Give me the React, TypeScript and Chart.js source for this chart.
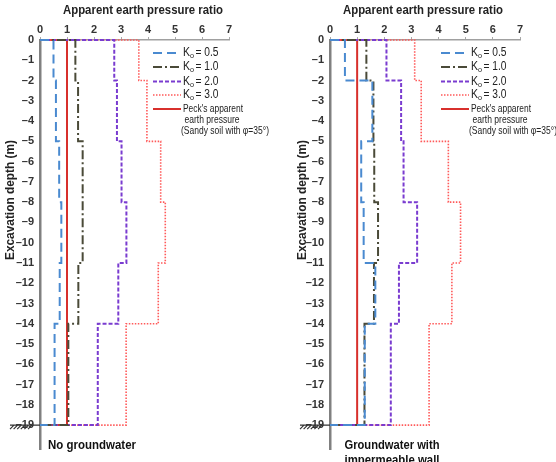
import React, { useEffect, useRef } from "react";
import { Chart, registerables } from "chart.js";
Chart.register(...registerables);

const FONT = '"Liberation Sans", Arial, Helvetica, sans-serif';

// depth breakpoints (m) – each series is constant between two breakpoints
const depthBreaks = [0, -2, -5, -8, -11, -14, -19];
const xTicks = [0, 1, 2, 3, 4, 5, 6, 7];
const yTicks = [0, -1, -2, -3, -4, -5, -6, -7, -8, -9, -10, -11, -12, -13, -14, -15, -16, -17, -18, -19];

// Panel 1: No groundwater
const leftK05 = [0.5, 0.59, 0.71, 0.79, 0.73, 0.54];
const leftK10 = [1.31, 1.41, 1.58, 1.58, 1.42, 1.05];
const leftK20 = [2.75, 2.85, 3.02, 3.2, 2.9, 2.14];
const leftK30 = [3.66, 3.96, 4.47, 4.64, 4.38, 3.19];
// Panel 2: Groundwater with impermeable wall
const rightK05 = [0.55, 1.56, 1.15, 1.24, 1.67, 1.28];
const rightK10 = [1.34, 1.6, 1.63, 1.77, 1.62, 1.27];
const rightK20 = [2.08, 2.62, 2.71, 3.21, 2.54, 2.24];
const rightK30 = [3.12, 3.36, 4.36, 4.81, 4.49, 3.65];
// Peck's apparent earth pressure (sandy soil, phi = 35°)
const peckRatio = [1, 1, 1, 1, 1, 1];

const kLabels = ["0.5", "1.0", "2.0", "3.0"];
const peckLabel = ["Peck's apparent", "earth pressure", "(Sandy soil with \u03c6=35\u00b0)"];
const titleText = "Apparent earth pressure ratio";
const yTitleText = "Excavation depth (m)";

type Style = { color: string; dash: number[]; width: number };
const kStyles: Style[] = [
  { color: "#4a8ad0", dash: [9, 5], width: 2 },
  { color: "#4a4a38", dash: [9, 3, 2, 3], width: 2 },
  { color: "#7a3cd0", dash: [4, 2], width: 2 },
  { color: "#ff5a5a", dash: [1.5, 1.5], width: 1.6 },
];
const peckStyle: Style = { color: "#d8302c", dash: [], width: 2 };

function profile(values: number[]) {
  const pts: { x: number; y: number }[] = [{ x: 0, y: depthBreaks[0] }];
  values.forEach((v, i) => {
    pts.push({ x: v, y: depthBreaks[i] });
    pts.push({ x: v, y: depthBreaks[i + 1] });
  });
  pts.push({ x: 0, y: depthBreaks[depthBreaks.length - 1] });
  return pts;
}

type PanelCfg = {
  series: number[][];
  axisLeft: number;
  padRight: number;
  titleX: number;
  yTitleX: number;
  note: string[];
  noteAlign: CanvasTextAlign;
  noteOffset: number;
  noteWidth: number;
  legendOffset: number;
};

function drawLine(ctx: CanvasRenderingContext2D, s: Style, x1: number, x2: number, y: number) {
  ctx.save();
  ctx.strokeStyle = s.color;
  ctx.lineWidth = s.width;
  ctx.setLineDash(s.dash);
  ctx.beginPath();
  ctx.moveTo(x1, y);
  ctx.lineTo(x2, y);
  ctx.stroke();
  ctx.restore();
}

function makeDecor(cfg: PanelCfg) {
  return {
    id: "decor",
    afterDraw(chart: any) {
      const { ctx, scales } = chart;
      const x = scales.x;
      const y = scales.y;
      const x0 = x.getPixelForValue(0);
      ctx.save();
      // title
      ctx.fillStyle = "#222";
      ctx.font = `bold 13px ${FONT}`;
      ctx.textAlign = "center";
      ctx.textBaseline = "middle";
      ctx.fillText(titleText, cfg.titleX, 10, 160);
      // y title
      ctx.save();
      ctx.translate(cfg.yTitleX, 200);
      ctx.rotate(-Math.PI / 2);
      ctx.font = `bold 13px ${FONT}`;
      ctx.fillText(yTitleText, 0, 0, 120);
      ctx.restore();
      // ground symbol at -19
      const yy = y.getPixelForValue(-19);
      ctx.strokeStyle = "#333";
      ctx.lineWidth = 1.2;
      ctx.beginPath();
      ctx.moveTo(x0 - 30, yy);
      ctx.lineTo(x0, yy);
      for (let i = 0; i < 6; i++) {
        const hx = x0 - 30 + i * 3.6;
        ctx.moveTo(hx, yy + 4);
        ctx.lineTo(hx + 4, yy);
      }
      ctx.stroke();
      // note below
      ctx.fillStyle = "#111";
      ctx.font = `bold 13px ${FONT}`;
      ctx.textAlign = cfg.noteAlign;
      cfg.note.forEach((t, i) => ctx.fillText(t, x0 + cfg.noteOffset, 445 + i * 15, cfg.noteWidth));
      // legend
      const lx = x0 + cfg.legendOffset;
      const rowsY = [53, 67, 81.5, 95, 109];
      kStyles.forEach((s, i) => {
        drawLine(ctx, s, lx, lx + 28, rowsY[i]);
        ctx.fillStyle = "#222";
        ctx.textAlign = "left";
        ctx.font = `12px ${FONT}`;
        const tx = lx + 30;
        ctx.fillText("K", tx, rowsY[i], 7);
        ctx.font = `7.5px ${FONT}`;
        ctx.fillText("o", tx + 7, rowsY[i] + 3, 4);
        ctx.font = `12px ${FONT}`;
        ctx.fillText("= " + kLabels[i], tx + 12.5, rowsY[i], 23);
      });
      drawLine(ctx, peckStyle, lx, lx + 28, rowsY[4]);
      ctx.fillStyle = "#222";
      ctx.font = `10.5px ${FONT}`;
      ctx.fillText(peckLabel[0], lx + 30, 109, 60);
      ctx.fillText(peckLabel[1], lx + 31.5, 120, 55);
      ctx.fillText(peckLabel[2], lx + 28, 131, 88);
      ctx.restore();
    },
  };
}

function Panel({ cfg }: { cfg: PanelCfg }) {
  const ref = useRef<HTMLCanvasElement>(null);
  useEffect(() => {
    if (!ref.current) return;
    const datasets: any[] = cfg.series.map((vals, i) => ({
      data: profile(vals),
      borderColor: kStyles[i].color,
      borderWidth: kStyles[i].width,
      borderDash: kStyles[i].dash,
      showLine: true,
      pointRadius: 0,
      fill: false,
      clip: false,
    }));
    datasets.push({
      data: profile(peckRatio),
      borderColor: peckStyle.color,
      borderWidth: peckStyle.width,
      showLine: true,
      pointRadius: 0,
      fill: false,
      clip: false,
    });
    const chart = new Chart(ref.current, {
      type: "scatter",
      data: { datasets },
      options: {
        animation: false,
        responsive: false,
        layout: { padding: { top: 20, right: cfg.padRight, bottom: 11.6, left: 0 } },
        plugins: { legend: { display: false }, tooltip: { enabled: false }, title: { display: false } },
        scales: {
          x: {
            type: "linear",
            position: "top",
            min: 0,
            max: 7,
            afterFit: (s: any) => {
              s.height = 20;
            },
            afterBuildTicks: (s: any) => {
              s.ticks = xTicks.map((v) => ({ value: v }));
            },
            ticks: {
              padding: 0,
              color: "#333",
              font: { family: FONT, size: 11, weight: "bold" },
              maxRotation: 0,
            },
            grid: { drawOnChartArea: false, drawTicks: true, tickLength: 3, color: "#aaa" },
            border: { display: true, color: "#a0a0a0", width: 1.5 },
          },
          y: {
            type: "linear",
            position: "left",
            min: -20.2,
            max: 0,
            afterFit: (s: any) => {
              s.width = cfg.axisLeft;
            },
            afterBuildTicks: (s: any) => {
              s.ticks = yTicks.map((v) => ({ value: v }));
            },
            ticks: {
              padding: 6,
              color: "#333",
              font: { family: FONT, size: 11, weight: "bold" },
              callback: (v: any) => String(v).replace("-", "\u2013"),
            },
            grid: { drawOnChartArea: false, drawTicks: false },
            border: { display: true, color: "#808080", width: 2.5 },
          },
        },
      },
      plugins: [makeDecor(cfg)],
    });
    return () => chart.destroy();
  }, [cfg]);
  return (
    <div style={{ width: 278, height: 462, position: "relative" }}>
      <canvas ref={ref} width={278} height={462} style={{ display: "block" }} />
    </div>
  );
}

const leftCfg: PanelCfg = {
  series: [leftK05, leftK10, leftK20, leftK30],
  axisLeft: 40,
  padRight: 49,
  titleX: 143,
  yTitleX: 10,
  note: ["No groundwater"],
  noteAlign: "left",
  noteOffset: 8,
  noteWidth: 88,
  legendOffset: 113,
};
const rightCfg: PanelCfg = {
  series: [rightK05, rightK10, rightK20, rightK30],
  axisLeft: 52,
  padRight: 36,
  titleX: 145,
  yTitleX: 24.5,
  note: ["Groundwater with", "impermeable wall"],
  noteAlign: "center",
  noteOffset: 62,
  noteWidth: 95,
  legendOffset: 111,
};

export default function App() {
  return (
    <div
      style={{
        position: "absolute",
        left: 0,
        top: 0,
        width: 556,
        height: 462,
        display: "flex",
        background: "#fff",
      }}
    >
      <Panel cfg={leftCfg} />
      <Panel cfg={rightCfg} />
    </div>
  );
}
